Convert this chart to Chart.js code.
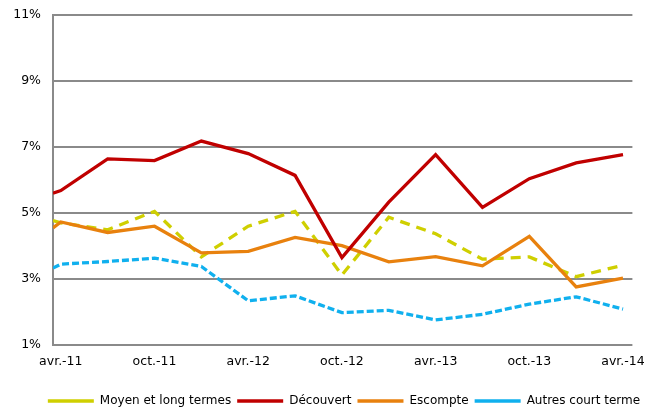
<!DOCTYPE html>
<html><head><meta charset="utf-8">
<script src="https://cdn.jsdelivr.net/npm/chart.js@4/dist/chart.umd.min.js"></script>
<style>html,body{margin:0;padding:0;background:#fff}#wrap{width:654px;height:407px}</style>
</head><body><div id="wrap"><canvas id="c" width="654" height="407"></canvas></div>
<script>
// Month index since janv.-2011 (avr.-11 = 3); first value is where the lines enter the plot
const periodMonths = [2.5, 3, 6, 9, 12, 15, 18, 21, 24, 27, 30, 33, 36, 39];
const moyenLongTermes = [4.77, 4.70, 4.49, 5.05, 3.67, 4.60, 5.05, 3.12, 4.87, 4.37, 3.60, 3.67, 3.07, 3.42];
const decouvert       = [5.60, 5.68, 6.64, 6.59, 7.18, 6.80, 6.14, 3.65, 5.33, 6.77, 5.17, 6.04, 6.52, 6.77];
const escompte        = [4.55, 4.73, 4.41, 4.60, 3.79, 3.84, 4.26, 4.01, 3.52, 3.68, 3.40, 4.29, 2.76, 3.03];
const autresCourtTerme= [3.33, 3.45, 3.53, 3.63, 3.38, 2.34, 2.49, 1.98, 2.05, 1.76, 1.93, 2.24, 2.46, 2.09];
const tickMonths = [3, 9, 15, 21, 27, 33, 39];
const tickLabels = ['avr.-11', 'oct.-11', 'avr.-12', 'oct.-12', 'avr.-13', 'oct.-13', 'avr.-14'];
const seriesNames = ['Moyen et long termes', 'Découvert', 'Escompte', 'Autres court terme'];

const pts = arr => arr.map((v, i) => ({x: periodMonths[i], y: v}));
Chart.defaults.font.family = '"DejaVu Sans", Verdana, sans-serif';
Chart.defaults.color = '#000';
const grey = '#8a8a8a';

// nudge the legend row to sit where the reference has it
const legendShift = {
  id: 'legendShift',
  afterLayout(chart) {
    const lg = chart.legend;
    if (lg) { lg.top += 10; lg.bottom += 10; lg.left += 19; lg.right += 19; }
  }
};

new Chart(document.getElementById('c'), {
  type: 'line',
  data: {
    datasets: [
      {label: seriesNames[0], data: pts(moyenLongTermes), borderColor: '#cfcf00', backgroundColor: 'rgba(0,0,0,0)', borderWidth: 3.3, borderDash: [10, 7], order: 3},
      {label: seriesNames[1], data: pts(decouvert), borderColor: '#c00000', backgroundColor: 'rgba(0,0,0,0)', borderWidth: 3.3, order: 1},
      {label: seriesNames[2], data: pts(escompte), borderColor: '#e8810e', backgroundColor: 'rgba(0,0,0,0)', borderWidth: 3.3, order: 2},
      {label: seriesNames[3], data: pts(autresCourtTerme), borderColor: '#10b0ee', backgroundColor: 'rgba(0,0,0,0)', borderWidth: 3.3, borderDash: [7, 3], order: 4}
    ]
  },
  options: {
    responsive: false,
    animation: false,
    devicePixelRatio: 1,
    elements: {line: {tension: 0, fill: false}, point: {radius: 0}},
    layout: {padding: {left: 12, right: 16, top: 15, bottom: 0}},
    scales: {
      x: {
        type: 'linear', min: 2.5, max: 39.6,
        grid: {display: false, drawTicks: false},
        border: {display: false},
        afterBuildTicks: s => { s.ticks = tickMonths.map(v => ({value: v})); },
        afterFit: s => { s.height = 34; },
        ticks: {
          autoSkip: false, maxRotation: 0, padding: 9,
          font: {size: 12.5},
          callback: (v) => { const i = tickMonths.indexOf(v); return i >= 0 ? tickLabels[i] : ''; }
        }
      },
      y: {
        min: 1, max: 11,
        afterFit: s => { s.width = 41; },
        grid: {color: grey, lineWidth: 2, drawTicks: true, tickLength: 12, tickColor: 'rgba(0,0,0,0)'},
        border: {display: true, color: grey, width: 2},
        ticks: {stepSize: 2, padding: 0, font: {size: 12.5}, callback: v => v + '%'}
      }
    },
    plugins: {
      tooltip: {enabled: false},
      legend: {
        position: 'bottom',
        labels: {
          usePointStyle: true, pointStyle: 'line', pointStyleWidth: 46, boxHeight: 3,
          padding: 6, font: {size: 12},
          sort: (a, b) => a.datasetIndex - b.datasetIndex
        }
      }
    }
  },
  plugins: [legendShift]
});
</script></body></html>
